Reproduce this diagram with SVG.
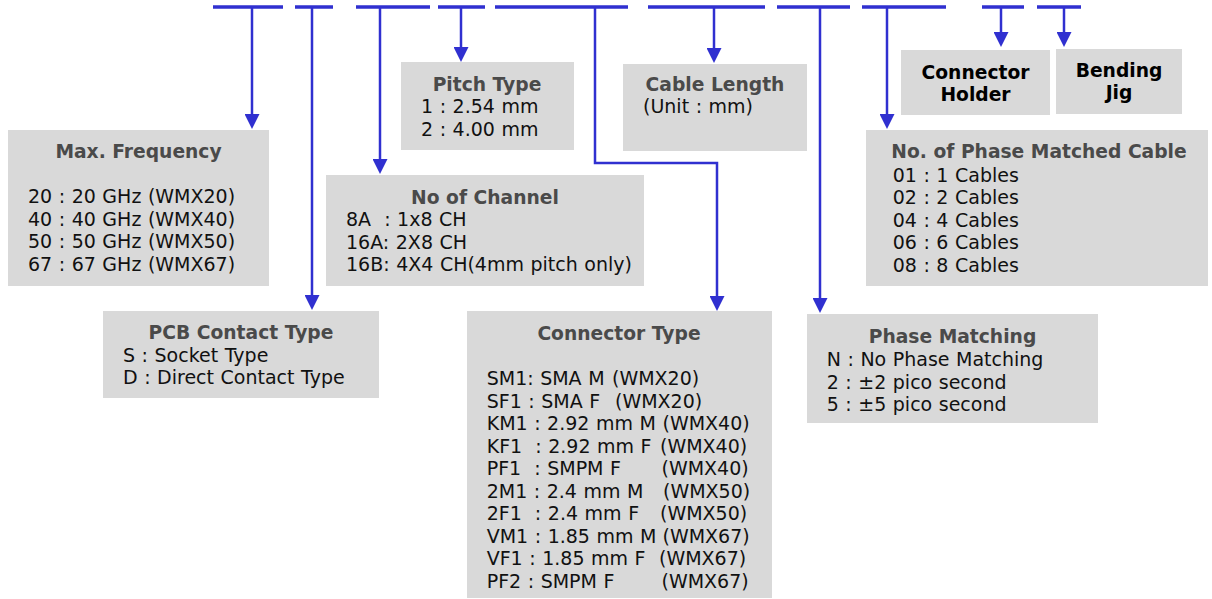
<svg xmlns="http://www.w3.org/2000/svg" width="1212" height="599" viewBox="0 0 1212 599">
<style>
.box{fill:#d9d9d9}
text{font-family:"DejaVu Sans","Verdana",sans-serif;font-size:19px;word-spacing:0.5px;fill:#111;white-space:pre}
.t{font-size:18.7px;word-spacing:0;font-weight:bold;fill:#4a4a4a;text-anchor:middle}
.k{font-size:18.7px;word-spacing:0;font-weight:bold;fill:#000;text-anchor:middle}
.bar{stroke:#3030d0;stroke-width:3.5;fill:none}
.ln{stroke:#3030d0;stroke-width:2.5;fill:none;marker-end:url(#ah)}
</style>
<defs>
<marker id="ah" viewBox="0 0 15 15" refX="10" refY="7.5" markerWidth="15" markerHeight="15" markerUnits="userSpaceOnUse" orient="auto">
<path d="M0,0 L15,7.5 L0,15 z" fill="#3030d0"/>
</marker>
</defs>
<g id="connectors">
<path class="bar" d="M213,7H283M295,7H333M356,7H430M438,7H485M495,7H628M648,7H765M777,7H850M862,7H946M982,7H1024M1037,7H1081"/>
<path class="ln" d="M252,7V124"/>
<path class="ln" d="M312,7V305"/>
<path class="ln" d="M380,7V169"/>
<path class="ln" d="M461,7V57"/>
<path class="ln" d="M595,7V163H717V306"/>
<path class="ln" d="M714,7V58"/>
<path class="ln" d="M820,7V308"/>
<path class="ln" d="M887,7V124"/>
<path class="ln" d="M1001,7V42"/>
<path class="ln" d="M1064,7V42"/>
</g>
<g id="max-frequency">
<rect class="box" x="8" y="130" width="261" height="156"/>
<text class="t" x="138.5" y="158">Max. Frequency</text>
<text x="28" y="203">20 : 20 GHz (WMX20)</text>
<text x="28" y="225.5">40 : 40 GHz (WMX40)</text>
<text x="28" y="248">50 : 50 GHz (WMX50)</text>
<text x="28" y="270.5">67 : 67 GHz (WMX67)</text>
</g>
<g id="pcb-contact-type">
<rect class="box" x="103" y="311" width="276" height="87"/>
<text class="t" x="241" y="339">PCB Contact Type</text>
<text x="123" y="361.5">S : Socket Type</text>
<text x="123" y="384">D : Direct Contact Type</text>
</g>
<g id="no-of-channel">
<rect class="box" x="326" y="175" width="318" height="111"/>
<text class="t" x="485" y="203.5">No of Channel</text>
<text x="346" y="226">8A  : 1x8 CH</text>
<text x="346" y="248.5">16A: 2X8 CH</text>
<text x="346" y="271">16B: 4X4 CH(4mm pitch only)</text>
</g>
<g id="pitch-type">
<rect class="box" x="401" y="62" width="173" height="88"/>
<text class="t" x="487" y="90.7">Pitch Type</text>
<text x="421" y="113.3">1 : 2.54 mm</text>
<text x="421" y="136">2 : 4.00 mm</text>
</g>
<g id="connector-type">
<rect class="box" x="467" y="311" width="305" height="287"/>
<text class="t" x="619" y="340">Connector Type</text>
<text x="486.7" y="385">SM1: SMA M <tspan x="612">(WMX20)</tspan></text>
<text x="486.7" y="407.5">SF1 : SMA F  <tspan x="615">(WMX20)</tspan></text>
<text x="486.7" y="430">KM1 : 2.92 mm M <tspan x="662.5">(WMX40)</tspan></text>
<text x="486.7" y="452.5">KF1  : 2.92 mm F <tspan x="660">(WMX40)</tspan></text>
<text x="486.7" y="475">PF1  : SMPM F<tspan x="661.5">(WMX40)</tspan></text>
<text x="486.7" y="497.5">2M1 : 2.4 mm M<tspan x="663">(WMX50)</tspan></text>
<text x="486.7" y="520">2F1  : 2.4 mm F<tspan x="660">(WMX50)</tspan></text>
<text x="486.7" y="542.5">VM1 : 1.85 mm M <tspan x="662.5">(WMX67)</tspan></text>
<text x="486.7" y="565">VF1 : 1.85 mm F <tspan x="659">(WMX67)</tspan></text>
<text x="486.7" y="587.5">PF2 : SMPM F<tspan x="661.5">(WMX67)</tspan></text>
</g>
<g id="cable-length">
<rect class="box" x="623" y="64" width="184" height="87"/>
<text class="t" x="715" y="90.7">Cable Length</text>
<text x="643" y="113.3">(Unit : mm)</text>
</g>
<g id="phase-matching">
<rect class="box" x="807" y="314" width="291" height="109"/>
<text class="t" x="952.5" y="343.3">Phase Matching</text>
<text x="826.7" y="366">N : No Phase Matching</text>
<text x="826.7" y="388.5">2 : ±2 pico second</text>
<text x="826.7" y="411">5 : ±5 pico second</text>
</g>
<g id="no-of-phase-matched-cable">
<rect class="box" x="866" y="130" width="342" height="156"/>
<text class="t" x="1039" y="158.3">No. of Phase Matched Cable</text>
<text x="892.7" y="181.5">01 : 1 Cables</text>
<text x="892.7" y="204">02 : 2 Cables</text>
<text x="892.7" y="226.5">04 : 4 Cables</text>
<text x="892.7" y="249">06 : 6 Cables</text>
<text x="892.7" y="271.5">08 : 8 Cables</text>
</g>
<g id="connector-holder">
<rect class="box" x="901" y="50" width="149" height="65"/>
<text class="k" x="975.5" y="78.7">Connector</text>
<text class="k" x="975.5" y="100.5">Holder</text>
</g>
<g id="bending-jig">
<rect class="box" x="1056" y="49" width="126" height="65"/>
<text class="k" x="1119" y="76.7">Bending</text>
<text class="k" x="1119" y="99.3">Jig</text>
</g>
</svg>
